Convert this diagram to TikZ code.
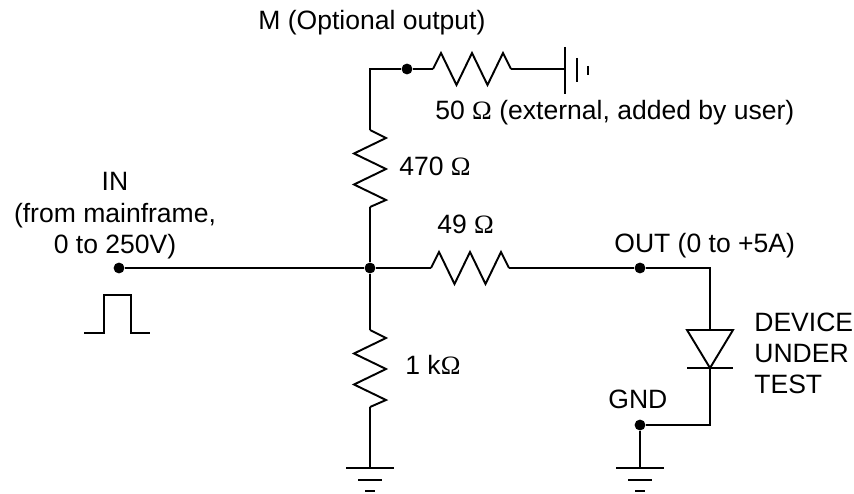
\documentclass[tikz,border=0pt]{standalone}
\usepackage{fontspec}
\setmainfont{Liberation Sans}
\newfontfamily\ohmfont{Liberation Serif}
\newcommand{\ohm}{{\ohmfont Ω}}
\usetikzlibrary{calc}
\tikzset{wire/.style={line width=1.1pt,line join=miter},
  pulseline/.style={line width=0.7pt},
  terminal/.style={fill,inner sep=0pt,minimum size=6.2pt,circle},
  lbl/.style={inner sep=0pt,anchor=base west,font=\fontsize{15.1}{17.6}\selectfont}}

\begin{document}
\begin{tikzpicture}[x=0.02cm,y=-0.02cm]
      \useasboundingbox (0,0) rectangle (854,493);
      % terminals
      \node[terminal] (IN) at (119,268) {};
      \node[terminal] (J) at (370,268) {};
      \node[terminal] (OUT) at (640,268) {};
      \node[terminal] (M) at (407,69) {};
      \node[terminal] (GND) at (640,425) {};
      % corners and resistor ends
      \coordinate (MC) at (370,69);
      \coordinate (RMa) at (370,130);
      \coordinate (RMb) at (370,207);
      \coordinate (RLa) at (370,330);
      \coordinate (RLb) at (370,407);
      \coordinate (R49a) at (431,268);
      \coordinate (R49b) at (509,268);
      \coordinate (R50a) at (433,69);
      \coordinate (R50b) at (511,69);
      \coordinate (G1) at (370,468);
      \coordinate (G2) at (640,468);
      \coordinate (G3) at (565,69);
      \coordinate (OC) at (710,268);
      \coordinate (DT) at (710,330);
      \coordinate (DB) at (710,368);
      \coordinate (GC) at (710,425);
      % wires
      \draw[wire] (IN) -- (J);
      \draw[wire] (J) -- (R49a);
      \draw[wire] (R49b) -- (OUT);
      \draw[wire] (OUT) -- (OC) -- (DT);
      \draw[wire] (DB) -- (GC) -- (GND);
      \draw[wire] (GND) -- (G2);
      \draw[wire] (J) -- (RMb);
      \draw[wire] (RMa) -- (MC) -- (M);
      \draw[wire] (M) -- (R50a);
      \draw[wire] (R50b) -- (G3);
      \draw[wire] (J) -- (RLa);
      \draw[wire] (RLb) -- (G1);
      % resistors
      \draw[wire] (RMa) -- ++(16,8) -- ++(-32,15.5) -- ++(32,15.5) -- ++(-32,15.5) -- ++(32,15.5) -- (RMb);
      \draw[wire] (RLa) -- ++(16,8) -- ++(-32,15.5) -- ++(32,15.5) -- ++(-32,15.5) -- ++(32,15.5) -- (RLb);
      \draw[wire] (R49a) -- ++(8,-16) -- ++(15.5,32) -- ++(15.5,-32) -- ++(15.5,32) -- ++(15.5,-32) -- (R49b);
      \draw[wire] (R50a) -- ++(8,-16) -- ++(15.5,32) -- ++(15.5,-32) -- ++(15.5,32) -- ++(15.5,-32) -- (R50b);
      % diode
      \draw[wire] (DB) -- ($(DT)+(-23,0)$) -- ($(DT)+(23,0)$) -- cycle;
      \draw[wire] ($(DB)+(-23,0)$) -- ($(DB)+(23,0)$);
      % grounds
      \draw[wire] ($(G1)+(-24,0)$) -- ($(G1)+(24,0)$);
      \draw[wire] ($(G1)+(-12,12)$) -- ($(G1)+(12,12)$);
      \draw[wire] ($(G1)+(-5,23)$) -- ($(G1)+(5,23)$);
      \draw[wire] ($(G2)+(-24,0)$) -- ($(G2)+(24,0)$);
      \draw[wire] ($(G2)+(-12,12)$) -- ($(G2)+(12,12)$);
      \draw[wire] ($(G2)+(-5,23)$) -- ($(G2)+(5,23)$);
      \draw[wire] ($(G3)+(0,-22)$) -- ($(G3)+(0,25)$);
      \draw[wire] ($(G3)+(12,-11)$) -- ($(G3)+(12,13)$);
      \draw[wire] ($(G3)+(23,-3)$) -- ($(G3)+(23,6)$);
      % pulse
      \draw[pulseline] (84,333) -- (104,333) -- (104,295) -- (131,295) -- (131,333) -- (150,333);
      % labels
      \node[lbl] (Mlabel) at (258,30) {M (Optional output)};
      \node[lbl] (R50label) at (435,120) {50 \ohm{} (external, added by user)};
      \node[lbl] (RMlabel) at (399,175) {470 \ohm};
      \node[lbl] (R49label) at (437,233) {49 \ohm};
      \node[lbl] (RLlabel) at (405,374) {1 k\ohm};
      \node[lbl] (OUTlabel) at (614,252) {OUT (0 to +5A)};
      \node[lbl] (GNDlabel) at (608,408) {GND};
      \node[lbl,anchor=base] (INlabel) at (115,191) {IN};
      \node[lbl,anchor=base] (INlabelb) at (115,222) {(from mainframe,};
      \node[lbl,anchor=base] (INlabelc) at (115,253) {0 to 250V)};
      \node[lbl] (DUTa) at (754,331) {DEVICE};
      \node[lbl] (DUTb) at (754,362) {UNDER};
      \node[lbl] (DUTc) at (754,393) {TEST};
\end{tikzpicture}
\end{document}
